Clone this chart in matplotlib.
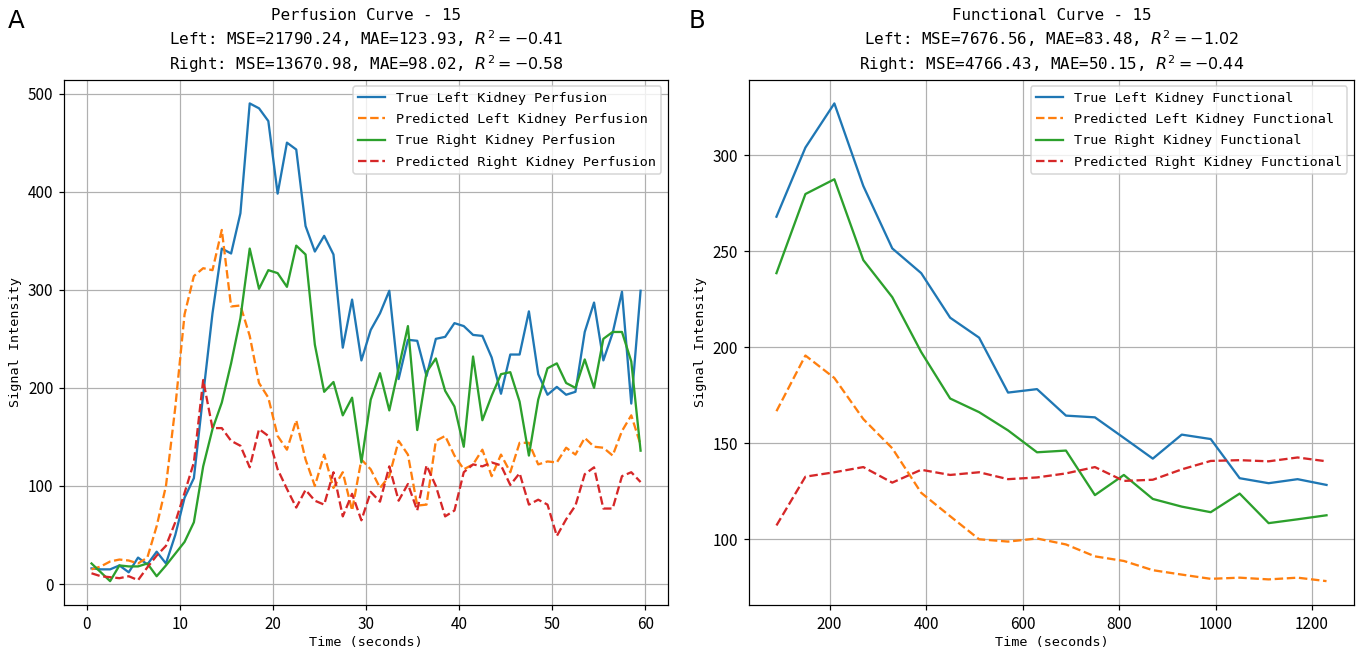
import numpy as np
import matplotlib
matplotlib.use("Agg")
import matplotlib.pyplot as plt

plt.rcParams['font.family'] = ['Noto Sans CJK SC', 'DejaVu Sans']
plt.rcParams['axes.unicode_minus'] = False

# perfusion curve (left panel), one sample per second
perf_time = [0.5 + i for i in range(60)]
perf_true_left = [16, 15, 15, 19, 12, 27, 20, 33, 21, 50, 88, 108, 193, 276, 342, 337, 378, 490, 485, 472,
                  398, 450, 443, 365, 339, 355, 336, 241, 290, 228, 259, 276, 299, 209, 249, 248, 212, 250, 252, 266,
                  263, 254, 253, 231, 194, 234, 234, 278, 214, 193, 201, 193, 196, 257, 287, 228, 256, 298, 184, 299]
perf_pred_left = [15, 18, 23, 25, 24, 21, 27, 59, 100, 180, 275, 314, 322, 320, 361, 283, 284, 253, 205, 190,
                  151, 137, 167, 127, 100, 132, 98, 114, 75, 127, 117, 98, 110, 146, 132, 80, 81, 146, 151, 131,
                  117, 122, 137, 110, 132, 114, 144, 144, 122, 125, 124, 139, 132, 149, 140, 139, 131, 156, 172, 142]
perf_true_right = [21, 12, 3, 19, 18, 18, 21, 8, 19, 31, 43, 63, 120, 158, 185, 225, 271, 342, 301, 320,
                   317, 303, 345, 336, 244, 196, 206, 172, 190, 124, 188, 215, 177, 220, 263, 157, 216, 230, 197, 181,
                   140, 232, 167, 192, 214, 216, 186, 131, 188, 220, 225, 205, 200, 229, 200, 250, 257, 257, 227, 136]
perf_pred_right = [11, 8, 7, 6, 8, 4, 17, 29, 39, 63, 93, 124, 208, 159, 159, 146, 141, 119, 158, 151,
                   117, 97, 78, 96, 85, 81, 114, 69, 92, 65, 94, 84, 120, 85, 102, 75, 121, 100, 69, 75,
                   114, 122, 120, 124, 121, 101, 113, 81, 86, 81, 49, 66, 80, 112, 119, 77, 77, 110, 114, 104]

# functional curve (right panel)
func_time = [90, 150, 210, 270, 330, 390, 450, 510, 570, 630, 690, 750, 810, 870, 930, 990, 1050, 1110, 1170, 1230]
func_true_left = [268, 304, 327, 284, 251.5, 238.6, 215.4, 205, 176.4, 178.2, 164.4, 163.5, 152.8, 142, 154.5,
                  152.2, 131.8, 129.2, 131.3, 128.3]
func_pred_left = [166.7, 195.7, 184, 162.6, 147.4, 124.2, 112, 100, 98.8, 100.4, 97.3, 91.1, 88.7, 83.9, 81.6,
                  79.4, 80, 79.1, 80, 78.2]
func_true_right = [238.6, 279.8, 287.5, 245.4, 226.1, 197.5, 173.3, 166.2, 156.7, 145.3, 146.2, 123, 133.5, 121,
                   117, 114.1, 123.8, 108.4, 110.4, 112.5]
func_pred_right = [107.2, 132.6, 134.9, 137.6, 129.5, 136.2, 133.5, 134.9, 131.3, 132.2, 134.3, 137.6, 130.4, 131,
                   136.4, 140.8, 141.2, 140.6, 142.6, 140.6]

perf_title = ("Perfusion Curve - 15\n"
              "Left: MSE=21790.24, MAE=123.93, $R^2 = -0.41$\n"
              "Right: MSE=13670.98, MAE=98.02, $R^2 = -0.58$")
func_title = ("Functional Curve - 15\n"
              "Left: MSE=7676.56, MAE=83.48, $R^2 = -1.02$\n"
              "Right: MSE=4766.43, MAE=50.15, $R^2 = -0.44$")

# the original text is a half-width monospaced face, so use a mono family for it
MONO = ['DejaVu Sans Mono', 'DejaVu Sans']
DPI = 110
fig = plt.figure(figsize=(1360 / DPI, 654 / DPI), dpi=DPI)
ax1 = fig.add_axes([0.0471, 0.0749, 0.4441, 0.8035])
ax2 = fig.add_axes([0.5507, 0.0749, 0.4449, 0.8035])


def draw(ax, t, tl, pl, tr, pr, kind, title):
    ax.plot(t, tl, color='#1f77b4', label='True Left Kidney ' + kind)
    ax.plot(t, pl, '--', color='#ff7f0e', label='Predicted Left Kidney ' + kind)
    ax.plot(t, tr, color='#2ca02c', label='True Right Kidney ' + kind)
    ax.plot(t, pr, '--', color='#d62728', label='Predicted Right Kidney ' + kind)
    ax.set_title(title, fontsize=10.4, family=MONO, linespacing=1.3)
    ax.set_xlabel('Time (seconds)', fontsize=8.8, family=MONO, labelpad=2)
    ax.set_ylabel('Signal Intensity', fontsize=8.8, family=MONO)
    ax.legend(loc='upper right', prop={'family': MONO, 'size': 8.8}, labelspacing=0.62)
    ax.grid(True)


draw(ax1, perf_time, perf_true_left, perf_pred_left, perf_true_right, perf_pred_right, 'Perfusion', perf_title)
draw(ax2, func_time, func_true_left, func_pred_left, func_true_right, func_pred_right, 'Functional', func_title)

fig.text(0.006, 0.968, 'A', fontsize=16, va='center', family='DejaVu Sans')
fig.text(0.506, 0.968, 'B', fontsize=16, va='center', family='DejaVu Sans')

fig.savefig('out.png', dpi=DPI)
